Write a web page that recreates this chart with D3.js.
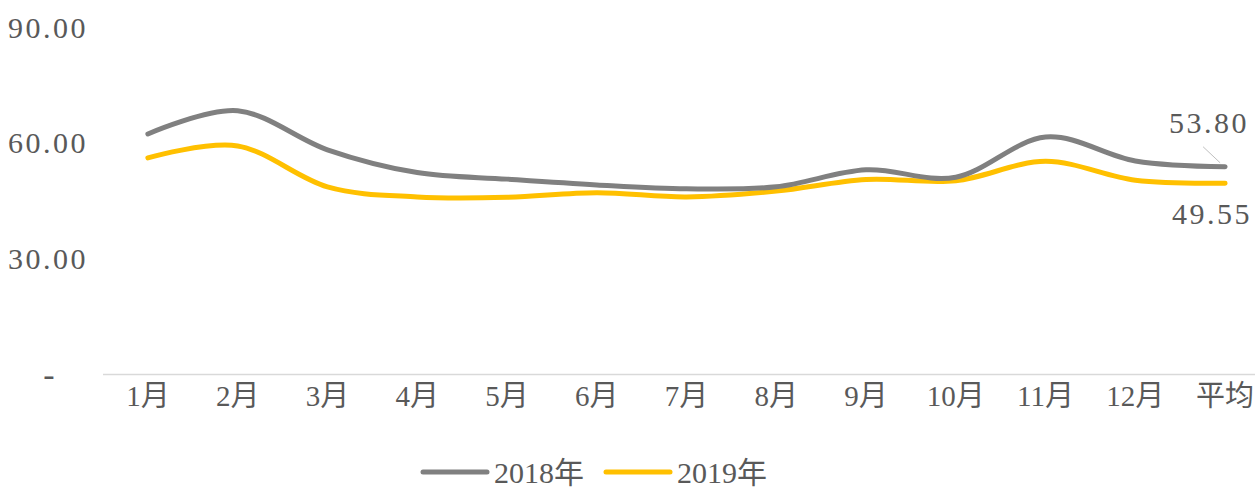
<!DOCTYPE html>
<html>
<head>
<meta charset="utf-8">
<script src="https://cdn.jsdelivr.net/npm/d3@7"></script>
<style>
  body { margin: 0; background: #fff; }
  text { font-family: "Liberation Serif", "Noto Sans CJK SC", serif; fill: #595959; }
</style>
</head>
<body>
<svg id="chart" width="1255" height="490"></svg>
<script>
// data
var months = ["1月", "2月", "3月", "4月", "5月", "6月", "7月", "8月", "9月", "10月", "11月", "12月", "平均"];
var values2018 = [62.3, 68.3, 58.2, 52.3, 50.6, 49.1, 48.1, 48.6, 53.0, 51.1, 61.5, 55.3, 53.80];
var values2019 = [56.1, 59.2, 48.6, 46.0, 45.9, 47.1, 46.0, 47.5, 50.5, 50.2, 55.2, 50.3, 49.55];
var yTicks = [0, 30, 60, 90];
var seriesNames = ["2018年", "2019年"];
var seriesColors = ["#808080", "#FFC000"];

var svg = d3.select("#chart");

var x = d3.scaleBand()
    .domain(months)
    .range([103, 1270]);
var y = d3.scaleLinear()
    .domain([0, 90])
    .range([374.5, 27]);

// axis line along the bottom
svg.append("line")
    .attr("x1", 103)
    .attr("x2", 1255)
    .attr("y1", y(0))
    .attr("y2", y(0))
    .attr("stroke", "#d9d9d9")
    .attr("stroke-width", 1.5);

// y labels (accounting style, zero shows a dash)
svg.selectAll(".ylab")
    .data(yTicks)
    .enter().append("text")
    .attr("class", "ylab")
    .attr("x", function(d){ return d == 0 ? 57 : 88; })
    .attr("y", function(d){ return y(d); })
    .attr("dy", "0.35em")
    .attr("text-anchor", "end")
    .style("font-size", function(d){ return d == 0 ? "34px" : "30px"; })
    .style("letter-spacing", "2.5px")
    .text(function(d){ return d == 0 ? "-" : d3.format(".2f")(d); });

// x labels
svg.selectAll(".xlab")
    .data(months)
    .enter().append("text")
    .attr("class", "xlab")
    .attr("x", function(d){ return x(d) + x.bandwidth() / 2; })
    .attr("y", 396)
    .attr("dy", "0.35em")
    .attr("text-anchor", "middle")
    .style("font-size", "29px")
    .text(function(d){ return d; });

var line = d3.line()
    .x(function(d, i){ return x(months[i]) + x.bandwidth() / 2; })
    .y(function(d){ return y(d); })
    .curve(d3.curveCardinal.tension(0));

var series = [values2018, values2019];
for (var s = series.length - 1; s >= 0; s--) {
    svg.append("path")
        .datum(series[s])
        .attr("d", line)
        .attr("fill", "none")
        .attr("stroke", seriesColors[s])
        .attr("stroke-width", 5)
        .attr("stroke-linecap", "round");
}

// labels on the average point
var last = months.length - 1;
var px = x(months[last]) + x.bandwidth() / 2;
svg.append("line")
    .attr("x1", px - 5)
    .attr("y1", y(values2018[last]) - 4)
    .attr("x2", px - 22)
    .attr("y2", y(values2018[last]) - 20)
    .attr("stroke", "#bfbfbf")
    .attr("stroke-width", 1);
svg.append("text")
    .attr("x", 1249)
    .attr("y", y(values2018[last]) - 44)
    .attr("dy", "0.35em")
    .attr("text-anchor", "end")
    .style("font-size", "30px")
    .style("letter-spacing", "2.5px")
    .text(d3.format(".2f")(values2018[last]));
svg.append("text")
    .attr("x", 1252)
    .attr("y", y(values2019[last]) + 30)
    .attr("dy", "0.35em")
    .attr("text-anchor", "end")
    .style("font-size", "30px")
    .style("letter-spacing", "2.5px")
    .text(d3.format(".2f")(values2019[last]));

// legend
var legendX = [423, 606];
seriesNames.forEach(function(name, i){
    svg.append("line")
        .attr("x1", legendX[i])
        .attr("x2", legendX[i] + 64)
        .attr("y1", 472)
        .attr("y2", 472)
        .attr("stroke", seriesColors[i])
        .attr("stroke-width", 5)
        .attr("stroke-linecap", "round");
    svg.append("text")
        .attr("x", legendX[i] + 71)
        .attr("y", 472)
        .attr("dy", "0.35em")
        .style("font-size", "30px")
        .text(name);
});
</script>
</body>
</html>
